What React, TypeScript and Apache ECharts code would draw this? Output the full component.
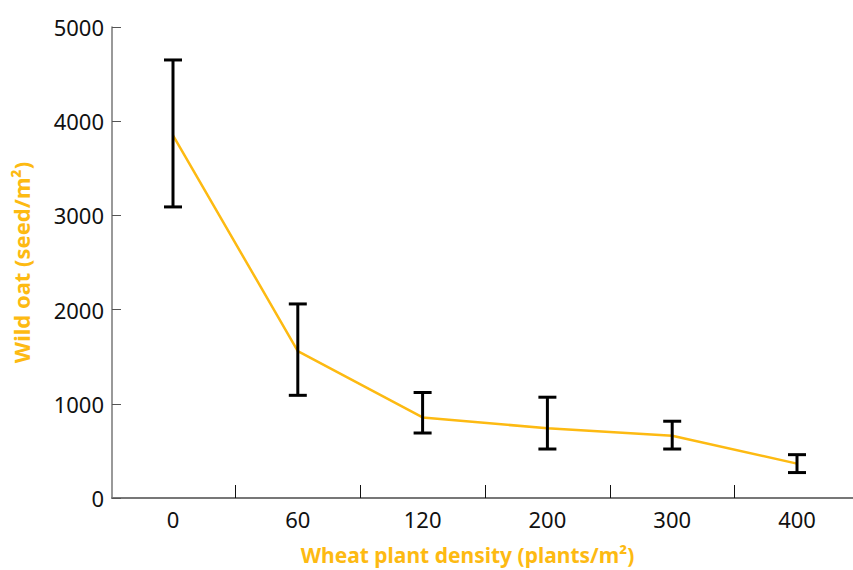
import React, { useEffect, useRef } from "react";
import * as echarts from "echarts";

const categories = ["0", "60", "120", "200", "300", "400"];
const meanValues = [3850, 1560, 855, 740, 660, 365];
const errorLow = [3090, 1090, 690, 520, 520, 270];
const errorHigh = [4650, 2060, 1120, 1070, 815, 460];
const yTicks = [0, 1000, 2000, 3000, 4000, 5000];

const AMBER = "#FDBA12";
const FONT = "'Noto Sans', sans-serif";

export default function App() {
  const ref = useRef<HTMLDivElement>(null);
  useEffect(() => {
    if (!ref.current) return;
    const chart = echarts.init(ref.current, null, { renderer: "svg" });
    const idx = categories.map((_, i) => i);
    const bounds = categories.slice(1).map((_, i) => i + 0.5);
    const lineData = meanValues.map((v, i) => [i, v]);
    const errData = categories.map((_, i) => [i, errorLow[i], errorHigh[i]]);
    const step = 124.8;
    const xMin = -(173 - 112) / step;
    chart.setOption({
      animation: false,
      grid: { left: 112, top: 27, right: 0, height: 473 },
      xAxis: {
        type: "value",
        min: xMin,
        max: xMin + 741 / step,
        splitLine: { show: false },
        axisLine: { onZero: false, lineStyle: { color: "#777", width: 2 } },
        axisTick: { show: true, inside: true, length: 13, lineStyle: { color: "#111", width: 1 }, customValues: bounds },
        axisLabel: {
          color: "#111",
          fontSize: 22,
          fontFamily: FONT,
          margin: 10,
          customValues: idx,
          formatter: (v: number) => categories[Math.round(v)] ?? "",
        },
        name: "Wheat plant density (plants/m²)",
        nameLocation: "middle",
        nameGap: 46,
        nameTextStyle: { color: AMBER, fontSize: 21, fontWeight: "bold", fontFamily: FONT, padding: [0, 30, 0, 0] },
      },
      yAxis: {
        type: "value",
        min: 0,
        max: 5000,
        interval: 1000,
        splitLine: { show: false },
        axisLine: { show: true, onZero: false, lineStyle: { color: "#777", width: 1.5 } },
        axisTick: { show: true, inside: true, length: 9, lineStyle: { color: "#555", width: 1 } },
        axisLabel: {
          color: "#111",
          fontSize: 22,
          fontFamily: FONT,
          margin: 8,
          customValues: yTicks,
          formatter: (v: number) => String(v),
        },
        name: "Wild oat (seed/m²)",
        nameLocation: "middle",
        nameGap: 80,
        nameTextStyle: { color: AMBER, fontSize: 22, fontWeight: "bold", fontFamily: FONT },
      },
      series: [
        {
          type: "line",
          data: lineData,
          symbol: "none",
          lineStyle: { color: AMBER, width: 2.5 },
          z: 2,
        },
        {
          type: "custom",
          data: errData,
          z: 3,
          renderItem: (params: any, api: any) => {
            const x = api.coord([api.value(0), 0])[0];
            const yLo = api.coord([api.value(0), api.value(1)])[1];
            const yHi = api.coord([api.value(0), api.value(2)])[1];
            const hw = 9;
            const style = { stroke: "#000", lineWidth: 3, fill: "none" };
            return {
              type: "group",
              children: [
                { type: "line", shape: { x1: x, y1: yLo, x2: x, y2: yHi }, style },
                { type: "line", shape: { x1: x - hw, y1: yHi, x2: x + hw, y2: yHi }, style },
                { type: "line", shape: { x1: x - hw, y1: yLo, x2: x + hw, y2: yLo }, style },
              ],
            };
          },
        },
      ],
    });
    return () => chart.dispose();
  }, []);
  return <div ref={ref} style={{ width: 853, height: 570, position: "absolute", left: 0, top: 0 }} />;
}
